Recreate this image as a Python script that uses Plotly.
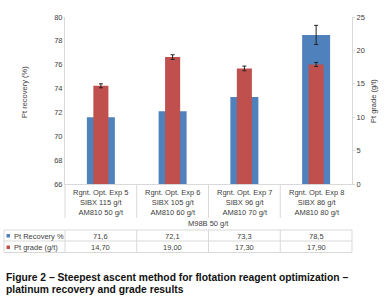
import plotly.graph_objects as go

categories = ["Exp 5", "Exp 6", "Exp 7", "Exp 8"]
cat_line1 = ["Rgnt. Opt. Exp 5", "Rgnt. Opt. Exp 6", "Rgnt. Opt. Exp 7", "Rgnt. Opt. Exp 8"]
cat_line2 = ["SIBX 115 g/t", "SIBX 105 g/t", "SIBX 96 g/t", "SIBX 86 g/t"]
cat_line3 = ["AM810 50 g/t", "AM810 60 g/t", "AM810 70 g/t", "AM810 80 g/t"]
group_label = "M98B 50 g/t"
recovery = [71.6, 72.1, 73.3, 78.5]
recovery_err = [0.3, 0.3, 0.3, 0.8]
grade = [14.70, 19.00, 17.30, 17.90]
grade_err = [0.3, 0.35, 0.35, 0.3]
recovery_txt = ["71,6", "72,1", "73,3", "78,5"]
grade_txt = ["14,70", "19,00", "17,30", "17,90"]

BLUE = "#4F81BD"
RED = "#C0504D"
GRID = "#D9D9D9"
TXT = "#404040"
FONT = "Liberation Sans, Arial, sans-serif"

W, H = 389, 302
L, R, T, B = 65, 37, 17, 118
PW = W - L - R
PH = H - T - B


def px(x):
    return (x - L) / PW


def py(y):
    return (H - B - y) / PH


fig = go.Figure()
fig.add_trace(go.Bar(
    x=categories, y=recovery, width=0.39, marker=dict(color=BLUE, line=dict(width=0)),
    error_y=dict(type="data", array=recovery_err, color="#222", thickness=1, width=2),
    name="Pt Recovery %", yaxis="y",
))
fig.add_trace(go.Bar(
    x=categories, y=grade, width=0.21, marker=dict(color=RED, line=dict(width=0)),
    error_y=dict(type="data", array=grade_err, color="#222", thickness=1, width=2),
    name="Pt grade (g/t)", yaxis="y2",
))

fig.update_layout(
    width=W, height=H, margin=dict(l=L, r=R, t=T, b=B),
    paper_bgcolor="white", plot_bgcolor="white",
    barmode="overlay", showlegend=False,
    font=dict(family=FONT, size=7.5, color=TXT),
    xaxis=dict(type="category", showticklabels=False, ticks="", showgrid=False,
               showline=True, linecolor=GRID, linewidth=1, zeroline=False),
    yaxis=dict(range=[66, 80], dtick=2, showgrid=False, showline=True, linecolor=GRID,
               linewidth=1, ticks="", zeroline=False, tickfont=dict(size=7.5, color=TXT)),
    yaxis2=dict(range=[0, 25], dtick=5, overlaying="y", side="right", showgrid=False,
                showline=True, linecolor=GRID, linewidth=1, ticks="outside", ticklen=2,
                tickcolor=GRID, zeroline=False, tickfont=dict(size=7.5, color=TXT)),
)

ann = []
shapes = []
bounds = [L + PW * i / 4 for i in range(5)]


def note(x, y, text, xref="paper", xanchor="center", yanchor="middle", **kw):
    d = dict(x=x, xref=xref, y=y, yref="paper", text=text, showarrow=False,
             xanchor=xanchor, yanchor=yanchor, font=kw.pop("font", dict(size=7.5, color=TXT)))
    d.update(kw)
    ann.append(d)


for i, c in enumerate(categories):
    note(i, py(186), cat_line1[i] + "<br>" + cat_line2[i] + "<br>" + cat_line3[i],
         xref="x", yanchor="top")
    note(i, py(236), recovery_txt[i], xref="x")
    note(i, py(247.5), grade_txt[i], xref="x")

note(px(208.5), py(223.5), group_label)
note(px(12), py(236), "Pt Recovery %", xanchor="left")
note(px(12), py(247.5), "Pt grade (g/t)", xanchor="left")
note(px(24), py(92), "Pt recovery (%)", textangle=-90)
note(px(373), py(101), "Pt grade (g/t)", textangle=-90)

CAP_FONT = dict(family="Liberation Sans, Arial", size=10.3, color="#111")
note(px(4), py(277), "<b>Figure 2 – Steepest ascent method for flotation reagent optimization –</b>",
     xanchor="left", font=CAP_FONT)
note(px(4), py(289), "<b>platinum recovery and grade results</b>", xanchor="left", font=CAP_FONT)

line = dict(color=GRID, width=1)
for b in bounds[:4]:
    shapes.append(dict(type="line", xref="paper", yref="paper", x0=px(b), x1=px(b),
                       y0=py(184), y1=py(218), line=line))
for yy in [230, 241, 252.5]:
    shapes.append(dict(type="line", xref="paper", yref="paper", x0=px(4), x1=px(352),
                       y0=py(yy), y1=py(yy), line=line))
for xx in [4] + bounds:
    shapes.append(dict(type="line", xref="paper", yref="paper", x0=px(xx), x1=px(xx),
                       y0=py(230), y1=py(252.5), line=line))
shapes.append(dict(type="rect", xref="paper", yref="paper", x0=px(6.5), x1=px(10),
                   y0=py(237.5), y1=py(234), fillcolor=BLUE, line=dict(width=0)))
shapes.append(dict(type="rect", xref="paper", yref="paper", x0=px(6.5), x1=px(10),
                   y0=py(249), y1=py(245.5), fillcolor=RED, line=dict(width=0)))

fig.update_layout(annotations=ann, shapes=shapes)
fig.write_html("out.html", config={"displayModeBar": False},
               post_script="document.body.style.margin='0';")
